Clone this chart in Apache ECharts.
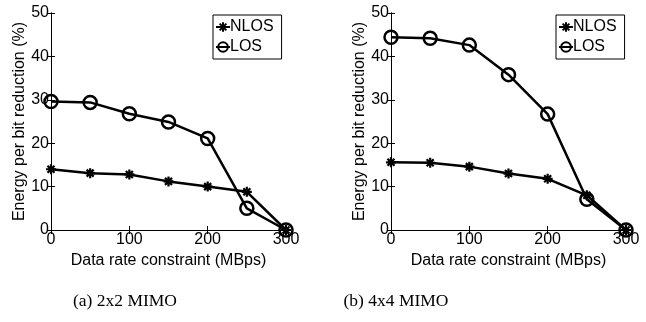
<!DOCTYPE html>
<html>
<head>
<meta charset="utf-8">
<script src="https://cdn.jsdelivr.net/npm/echarts@6/dist/echarts.min.js"></script>
<style>html,body{margin:0;padding:0;background:#fff;}#c{width:646px;height:322px;}</style>
</head>
<body>
<div id="c"></div>
<script>
const rates = [0, 50, 100, 150, 200, 250, 300];
const nlos2x2 = [14.0, 13.1, 12.8, 11.2, 10.0, 8.8, 0];
const los2x2 = [29.6, 29.4, 26.8, 24.9, 21.1, 5.0, 0];
const nlos4x4 = [15.6, 15.5, 14.6, 13.0, 11.8, 8.0, 0];
const los4x4 = [44.4, 44.2, 42.6, 35.8, 26.7, 7.1, 0];
const captions = ['(a) 2x2 MIMO', '(b) 4x4 MIMO'];
const xName = 'Data rate constraint (MBps)';
const yName = 'Energy per bit reduction (%)';

const FONT = 'Liberation Sans, Arial, sans-serif';
const star = 'path://M0,5L10,5M5,0L5,10M1.5,1.5L8.5,8.5M8.5,1.5L1.5,8.5';
const grids = [
  {left: 51, top: 13, width: 235, height: 217},
  {left: 391, top: 13, width: 235, height: 217}
];
function xMain(g){return {type:'value', gridIndex:g, min:0, max:300, interval:100,
  name:xName, nameLocation:'middle', nameGap:19, nameTextStyle:{fontFamily:FONT,fontSize:16,color:'#000'},
  axisLine:{lineStyle:{color:'#000',width:1}}, axisTick:{inside:true,length:4,lineStyle:{color:'#000'}},
  axisLabel:{fontFamily:FONT,fontSize:16,color:'#000',margin:2}, splitLine:{show:false}};}
function xTop(g){return {type:'value', gridIndex:g, position:'top', min:0, max:300, interval:100,
  axisLine:{lineStyle:{color:'#000',width:1}}, axisTick:{inside:true,length:4,lineStyle:{color:'#000'}},
  axisLabel:{show:false}, splitLine:{show:false}};}
function yMain(g){return {type:'value', gridIndex:g, min:0, max:50, interval:10,
  name:yName, nameLocation:'middle', nameGap:21, nameTextStyle:{fontFamily:FONT,fontSize:16,color:'#000'},
  axisLine:{show:true,lineStyle:{color:'#000',width:1}}, axisTick:{show:true,inside:true,length:4,lineStyle:{color:'#000'}},
  axisLabel:{fontFamily:FONT,fontSize:16,color:'#000',margin:2}, splitLine:{show:false}};}
function yRight(g){return {type:'value', gridIndex:g, position:'right', min:0, max:50, interval:10,
  axisLine:{show:true,lineStyle:{color:'#000',width:1}}, axisTick:{show:true,inside:true,length:4,lineStyle:{color:'#000'}},
  axisLabel:{show:false}, splitLine:{show:false}};}

function mk(name, vals, xi, yi, isLos){
  return {name:name, type:'line', xAxisIndex:xi, yAxisIndex:yi, clip:false,
    data: rates.map((r,i)=>[r, vals[i]]),
    symbol: isLos ? 'circle' : star,
    symbolSize: isLos ? 13 : 10,
    showAllSymbol:true,
    lineStyle:{color:'#000', width:2.5},
    itemStyle:{color: isLos ? 'rgba(0,0,0,0)' : '#000', borderColor:'#000', borderWidth: isLos ? 2.5 : 2.2},
    emphasis:{disabled:true}, animation:false, z: isLos?3:2};
}
function legend(left){
  return {orient:'vertical', left:left, top:15, padding:[4,8,4,2], itemGap:4,
    borderColor:'#000', borderWidth:1, itemWidth:14, itemHeight:12,
    data:['NLOS','LOS'], selectedMode:false,
    textStyle:{fontFamily:FONT,fontSize:16,color:'#000', padding:[0,0,0,-5]}};
}
const chart = echarts.init(document.getElementById('c'), null, {renderer:'canvas'});
chart.setOption({
  backgroundColor:'#fff',
  animation:false,
  grid: grids,
  xAxis:[xMain(0), xMain(1), xTop(0), xTop(1)],
  yAxis:[yMain(0), yMain(1), yRight(0), yRight(1)],
  legend:[legend(213), legend(556)],
  series:[
    mk('NLOS', nlos2x2, 0, 0, false),
    mk('LOS', los2x2, 0, 0, true),
    mk('NLOS', nlos4x4, 1, 1, false),
    mk('LOS', los4x4, 1, 1, true)
  ],
  graphic:[
    {type:'text', style:{text:captions[0], x:125, y:301, textAlign:'center', textVerticalAlign:'middle', font:'17.5px "Liberation Serif", "Times New Roman", serif', fill:'#000'}},
    {type:'text', style:{text:captions[1], x:396, y:301, textAlign:'center', textVerticalAlign:'middle', font:'17.5px "Liberation Serif", "Times New Roman", serif', fill:'#000'}}
  ]
});
</script>
</body>
</html>
